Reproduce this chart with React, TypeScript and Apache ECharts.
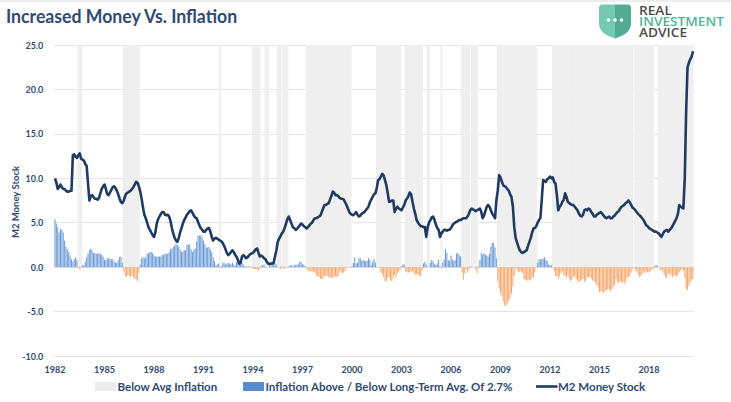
import React, { useEffect, useRef } from "react";
import * as echarts from "echarts";

const START_YEAR = 1982;

// CPI YoY minus long-term average of 2.7% (monthly, Jan 1982 - Sep 2020)
const inflationVsAvg = [
  5.4, 4.9, 4.5, 3.9, 4.3, 4.2, 3.9, 3.0, 2.3, 2.0, 1.7, 1.3,
  0.9, 0.6, 0.9, 1.1, 0.8, -0.1, -0.3, -0.1, 0.2, 0.2, 0.6, 1.1,
  1.5, 1.9, 2.1, 1.9, 1.6, 1.6, 1.5, 1.5, 1.6, 1.5, 1.4, 1.2,
  0.8, 0.8, 1.0, 1.0, 0.9, 0.9, 0.9, 0.6, 0.5, 0.5, 0.8, 1.1,
  1.2, 0.5, -0.5, -1.0, -1.1, -0.9, -1.0, -1.1, -0.9, -1.1, -1.3, -1.4,
  -1.6, -0.7, 0.3, 1.0, 1.1, 1.0, 1.1, 1.5, 1.6, 1.7, 1.7, 1.6,
  1.3, 1.2, 1.2, 1.2, 1.2, 1.2, 1.4, 1.4, 1.5, 1.5, 1.5, 1.7,
  2.0, 2.1, 2.3, 2.4, 2.7, 2.5, 2.3, 2.0, 1.7, 1.8, 1.9, 1.9,
  2.5, 2.6, 2.5, 2.0, 1.7, 2.0, 2.1, 2.9, 3.5, 3.6, 3.6, 3.4,
  3.0, 2.6, 2.2, 2.2, 2.3, 2.0, 1.7, 1.1, 0.7, 0.2, 0.3, 0.4,
  -0.1, 0.1, 0.5, 0.5, 0.3, 0.4, 0.5, 0.4, 0.3, 0.5, 0.3, 0.2,
  0.6, 0.5, 0.4, 0.5, 0.5, 0.3, 0.1, 0.1, 0.05, 0.1, 0.05, 0.05,
  -0.2, -0.2, -0.2, -0.3, -0.4, -0.2, 0.1, 0.2, 0.3, -0.1, -0.05, -0.05,
  0.2, 0.2, 0.2, 0.4, 0.5, 0.3, -0.05, -0.1, -0.2, 0.1, -0.1, -0.2,
  -0.05, -0.05, 0.1, 0.2, 0.2, 0.1, 0.3, 0.2, 0.3, 0.3, 0.6, 0.6,
  0.3, 0.3, 0.1, -0.2, -0.5, -0.4, -0.5, -0.5, -0.5, -0.6, -0.9, -1.0,
  -1.1, -1.3, -1.3, -1.3, -1.0, -1.0, -1.0, -1.1, -1.2, -1.2, -1.2, -1.1,
  -1.0, -1.1, -1.0, -0.4, -0.6, -0.7, -0.6, -0.4, -0.1, -0.1, -0.1, -0.05,
  0.1, 0.5, 1.1, 0.4, 0.5, 1.0, 1.0, 0.7, 0.8, 0.7, 0.7, 0.7,
  1.0, 0.8, 0.2, 0.6, 0.9, 0.5, -0.05, -0.05, -0.1, -0.6, -0.8, -1.1,
  -1.6, -1.6, -1.2, -1.1, -1.5, -1.6, -1.2, -0.9, -1.2, -0.7, -0.5, -0.3,
  0.1, 0.3, 0.3, -0.5, -0.6, -0.6, -0.6, -0.5, -0.4, -0.7, -0.9, -0.8,
  -0.8, -1.0, -1.0, -0.4, 0.4, 0.6, 0.3, -0.05, -0.1, 0.5, 0.8, 0.6,
  0.3, 0.3, 0.4, 0.8, 0.1, -0.2, 0.5, 0.9, 2.0, 1.6, 0.8, 0.7,
  1.3, 0.9, 0.7, 0.8, 1.5, 1.6, 1.4, 1.2, -0.6, -1.4, -0.7, -0.2,
  -0.6, -0.3, 0.1, -0.1, -0.05, -0.05, -0.3, -0.7, 0.1, 0.8, 1.6, 1.4,
  1.6, 1.4, 1.3, 1.2, 1.5, 2.3, 2.8, 2.7, 2.2, 1.0, -1.6, -2.4,
  -2.9, -3.3, -3.9, -4.3, -4.4, -4.1, -3.8, -3.5, -3.0, -2.2, -1.0, -0.1,
  -0.3, -0.6, -0.5, -0.5, -0.7, -1.4, -1.4, -1.5, -1.5, -1.4, -1.5, -1.2,
  -1.1, -0.6, -0.05, 0.5, 0.9, 0.9, 0.9, 1.0, 1.1, 0.8, 0.7, 0.3,
  0.2, 0.2, -0.05, -0.4, -1.0, -1.0, -1.3, -1.0, -0.7, -0.5, -0.9, -1.0,
  -1.2, -0.9, -1.3, -1.6, -1.4, -1.1, -1.0, -1.3, -1.5, -1.7, -1.6, -1.4,
  -1.3, -1.7, -1.5, -1.2, -1.1, -1.1, -1.3, -1.5, -1.6, -1.7, -2.0, -2.3,
  -2.8, -2.7, -2.8, -2.9, -2.7, -2.6, -2.5, -2.5, -2.7, -2.5, -2.2, -2.0,
  -1.3, -1.7, -1.8, -1.6, -1.7, -1.7, -1.9, -1.6, -1.2, -1.1, -1.0, -0.6,
  -0.2, 0.05, -0.3, -0.5, -0.8, -1.1, -1.0, -0.8, -0.5, -0.7, -0.5, -0.6,
  -0.6, -0.5, -0.3, -0.2, 0.1, 0.2, 0.2, -0.05, -0.4, -0.2, -0.5, -0.8,
  -1.1, -1.2, -0.8, -0.7, -0.9, -1.1, -0.9, -1.0, -1.0, -0.9, -0.6, -0.4,
  -0.2, -0.4, -1.2, -2.4, -2.6, -2.1, -1.7, -1.4, -1.3,
];

// M2 money stock, year-over-year % change (monthly, Jan 1982 - Sep 2020)
const m2Growth = [
  10.0, 9.5, 8.8, 9.0, 9.3, 9.0, 8.8, 8.8, 8.6, 8.5, 8.5, 8.6,
  8.6, 12.6, 12.7, 12.4, 12.3, 12.6, 12.8, 12.2, 12.1, 12.0, 11.6, 11.4,
  9.5, 7.5, 8.0, 8.1, 7.9, 7.7, 7.7, 7.6, 7.8, 8.3, 8.8, 9.1,
  9.3, 8.8, 8.2, 8.1, 8.4, 8.7, 9.0, 9.1, 8.9, 8.6, 8.2, 7.7,
  7.3, 7.2, 7.5, 8.0, 8.3, 8.4, 8.5, 8.6, 8.8, 9.0, 9.3, 9.6,
  9.5, 9.1, 8.5, 7.7, 6.7, 5.9, 5.5, 5.0, 4.5, 4.2, 3.9, 3.6,
  3.4, 3.9, 4.9, 5.4, 5.7, 6.0, 6.2, 6.2, 5.9, 5.85, 5.9, 5.7,
  5.2, 4.4, 3.8, 3.3, 3.0, 2.85, 3.3, 3.9, 4.4, 4.9, 5.3, 5.6,
  5.9, 6.1, 6.3, 6.4, 6.1, 5.8, 5.6, 5.5, 5.1, 4.7, 4.4, 4.2,
  4.0, 4.0, 4.2, 4.35, 4.4, 4.0, 3.4, 3.0, 3.2, 3.3, 3.2, 3.1,
  3.0, 2.9, 2.7, 2.4, 2.0, 1.6, 1.35, 1.5, 1.7, 1.9, 1.7, 1.4,
  1.16, 0.8, 0.4, 0.5, 1.2, 1.35, 1.2, 1.0, 1.1, 1.3, 1.45, 1.55,
  1.6, 1.8, 2.0, 2.1, 1.6, 1.2, 1.3, 1.2, 1.0, 0.9, 0.6, 0.4,
  0.35, 0.4, 0.4, 0.5, 1.2, 1.9, 2.85, 3.2, 3.5, 3.8, 4.0, 4.4,
  4.9, 5.4, 5.7, 5.3, 4.9, 4.5, 4.4, 4.2, 4.3, 4.5, 4.7, 4.9,
  4.8, 4.6, 4.5, 4.35, 4.5, 4.7, 4.9, 5.0, 5.3, 5.5, 5.5, 5.6,
  5.7, 5.8, 6.2, 6.6, 7.0, 7.0, 7.1, 7.2, 7.6, 8.0, 8.5, 8.4,
  8.1, 8.1, 8.0, 7.8, 7.7, 7.7, 7.6, 7.3, 7.0, 6.6, 6.2, 6.0,
  5.9, 5.85, 6.0, 6.2, 5.9, 5.7, 5.8, 6.0, 6.1, 6.2, 6.4, 6.6,
  6.8, 7.3, 7.6, 7.9, 8.2, 8.3, 8.9, 9.8, 9.9, 10.2, 10.5, 10.3,
  9.8, 9.2, 8.3, 7.35, 7.4, 7.5, 7.5, 6.2, 6.6, 6.8, 6.6, 6.5,
  6.4, 6.7, 7.0, 7.5, 7.7, 8.0, 8.4, 8.2, 7.35, 6.6, 6.0, 5.3,
  5.0, 4.8, 4.6, 4.6, 4.5, 4.5, 3.4, 4.5, 5.0, 5.3, 5.6, 5.7,
  5.3, 4.8, 4.4, 4.2, 3.4, 3.8, 4.0, 4.2, 4.2, 4.1, 4.2, 4.2,
  4.4, 4.7, 4.9, 5.0, 5.1, 5.2, 5.3, 5.3, 5.4, 5.5, 5.5, 5.5,
  5.7, 6.0, 6.4, 6.6, 6.5, 6.4, 6.3, 6.4, 6.5, 6.6, 6.2, 5.5,
  5.8, 6.3, 6.8, 7.0, 6.8, 6.4, 6.0, 5.8, 5.5, 7.5, 8.6, 10.35,
  10.1, 9.6, 9.2, 9.1, 9.0, 8.8, 8.6, 8.2, 7.9, 6.8, 4.5, 3.3,
  2.8, 2.3, 1.9, 1.7, 1.6, 1.7, 1.8, 1.9, 2.4, 2.85, 3.3, 3.9,
  4.35, 4.4, 4.6, 5.0, 5.3, 5.5, 7.6, 9.8, 9.7, 9.6, 9.9, 10.0,
  10.2, 10.0, 10.1, 9.6, 9.4, 8.1, 6.4, 6.8, 7.0, 7.35, 7.6, 8.3,
  7.9, 7.35, 7.2, 7.1, 7.0, 7.0, 6.8, 6.6, 6.4, 6.0, 5.8, 5.7,
  5.9, 6.4, 6.5, 6.4, 6.6, 6.5, 6.2, 6.0, 5.7, 5.7, 5.9, 6.0,
  6.1, 6.2, 6.0, 5.8, 5.6, 5.5, 5.6, 5.7, 5.5, 5.5, 5.7, 5.8,
  6.0, 6.2, 6.3, 6.6, 6.8, 6.9, 7.0, 7.2, 7.3, 7.5, 7.3, 7.0,
  6.7, 6.6, 6.4, 6.2, 6.0, 5.85, 5.7, 5.5, 5.3, 5.0, 4.7, 4.6,
  4.4, 4.3, 4.2, 4.1, 4.0, 4.0, 3.9, 3.8, 3.6, 3.4, 3.7, 4.0,
  4.1, 4.2, 4.0, 4.2, 4.35, 4.6, 4.9, 5.2, 5.5, 6.0, 7.0, 6.8,
  6.7, 6.6, 10.0, 17.5, 22.5, 23.0, 23.4, 23.7, 24.3,
];

const categories = m2Growth.map(
  (_, i) => `${START_YEAR + Math.floor(i / 12)}-${String((i % 12) + 1).padStart(2, "0")}`
);

const Y_MIN = -10;
const Y_MAX = 25;
const Y_STEP = 5;

const SHADE_NAME = "Below Avg Inflation";
const BARS_NAME = "Inflation Above / Below Long-Term Avg. Of 2.7%";
const LINE_NAME = "M2 Money Stock";

// shading where inflation is below its long-term average
const belowAvgShade = inflationVsAvg.map((v) => (v < 0 ? Y_MAX : "-"));

const NAVY = "#2f4b72";
const BLUE = "#6a9ad6";
const BLUE_KEY = "#5b8ccf";
const ORANGE = "#f5a76d";
const SHADE = "#efefef";
const LINE = "#1f3b63";
const FONT = "Lato, 'Open Sans', sans-serif";
const LOGO_FONT = "'Open Sans', sans-serif";

export default function App() {
  const ref = useRef<HTMLDivElement>(null);

  useEffect(() => {
    if (!ref.current) return;
    echarts.graphic.registerShape(
      "shieldLeft",
      echarts.graphic.extendPath("M16,0 L2,0 L0,2 L0,19 C0,27 7,31 16,34 Z", {})
    );
    echarts.graphic.registerShape(
      "shieldRight",
      echarts.graphic.extendPath("M16,0 L30,0 L32,2 L32,19 C32,27 25,31 16,34 Z", {})
    );
    const chart = echarts.init(ref.current, null, { renderer: "svg" });

    const legendText = (x: number, text: string) => ({
      type: "text",
      x,
      y: 386.5,
      style: {
        text,
        fontFamily: FONT,
        fontWeight: "bold",
        fontSize: 11.5,
        fill: NAVY,
        align: "left",
        verticalAlign: "middle",
      },
    });

    const option: any = {
      animation: false,
      backgroundColor: "#ffffff",
      grid: { left: 54.3, top: 45, width: 639.4, height: 311, containLabel: false },
      xAxis: [
        {
          type: "category",
          data: categories,
          boundaryGap: true,
          axisLine: { show: false },
          axisTick: { show: false },
          splitLine: { show: false },
          axisLabel: {
            interval: 35,
            margin: 9,
            color: NAVY,
            fontFamily: FONT,
            fontWeight: "bold",
            fontSize: 9,
            formatter: (v: string) => v.slice(0, 4),
          },
        },
        {
          type: "category",
          data: categories,
          boundaryGap: true,
          show: false,
        },
      ],
      yAxis: {
        type: "value",
        min: Y_MIN,
        max: Y_MAX,
        interval: Y_STEP,
        axisLine: { show: false },
        axisTick: { show: false },
        axisLabel: {
          margin: 11,
          color: NAVY,
          fontFamily: FONT,
          fontWeight: "bold",
          fontSize: 9,
          formatter: (v: number) => v.toFixed(1),
        },
        splitLine: { lineStyle: { color: "#e4e4e4", width: 1.2 } },
      },
      series: [
        {
          name: SHADE_NAME,
          type: "bar",
          xAxisIndex: 1,
          data: belowAvgShade,
          barWidth: 1.9,
          itemStyle: { color: SHADE },
          silent: true,
          z: 1,
        },
        {
          name: BARS_NAME,
          type: "bar",
          xAxisIndex: 0,
          data: inflationVsAvg.map((v) => ({
            value: v,
            itemStyle: { color: v < 0 ? ORANGE : BLUE },
          })),
          barWidth: "72%",
          itemStyle: { color: BLUE_KEY },
          silent: true,
          z: 2,
        },
        {
          name: LINE_NAME,
          type: "line",
          xAxisIndex: 0,
          data: m2Growth,
          symbol: "none",
          smooth: false,
          lineStyle: { color: LINE, width: 2.6, join: "round" },
          itemStyle: { color: LINE },
          silent: true,
          z: 3,
        },
      ],
      graphic: [
        { type: "rect", shape: { x: 0, y: 0, width: 731, height: 2 }, style: { fill: "#ececec" } },
        {
          type: "text",
          x: 6,
          y: 15.5,
          scaleX: 0.93,
          style: {
            text: "Increased Money Vs. Inflation",
            fontFamily: FONT,
            fontWeight: "bold",
            fontSize: 19,
            fill: NAVY,
            align: "left",
            verticalAlign: "middle",
          },
        },
        {
          type: "text",
          x: 15.5,
          y: 202,
          rotation: Math.PI / 2,
          style: {
            text: "M2 Money Stock",
            fontFamily: FONT,
            fontWeight: "bold",
            fontSize: 9.5,
            fill: NAVY,
            align: "center",
            verticalAlign: "middle",
          },
        },
        // legend
        { type: "rect", shape: { x: 95, y: 382, width: 21, height: 9 }, style: { fill: "#ececec" } },
        legendText(117.5, SHADE_NAME),
        { type: "rect", shape: { x: 243, y: 382, width: 21, height: 9 }, style: { fill: BLUE_KEY } },
        legendText(265.5, BARS_NAME),
        {
          type: "line",
          shape: { x1: 536, y1: 386.5, x2: 557.5, y2: 386.5 },
          style: { stroke: LINE, lineWidth: 2.6 },
        },
        legendText(558, LINE_NAME),
        // logo
        { type: "shieldLeft", x: 599, y: 4.5, style: { fill: "#74c9b1" } },
        { type: "shieldRight", x: 599, y: 4.5, style: { fill: "#52ab92" } },
        { type: "circle", shape: { cx: 608.5, cy: 20, r: 1.8 }, style: { fill: "#ffffff" } },
        { type: "circle", shape: { cx: 615, cy: 20, r: 1.8 }, style: { fill: "#ffffff" } },
        { type: "circle", shape: { cx: 621.5, cy: 20, r: 1.8 }, style: { fill: "#ffffff" } },
        {
          type: "text",
          x: 639,
          y: 5,
          scaleX: 1.14,
          style: {
            text: "{a|REAL}\n{b|INVESTMENT}\n{a|ADVICE}",
            align: "left",
            verticalAlign: "top",
            rich: {
              a: { fontFamily: LOGO_FONT, fontWeight: 600, fontSize: 12, lineHeight: 11, fill: "#4a4a4a" },
              b: { fontFamily: LOGO_FONT, fontWeight: 600, fontSize: 12, lineHeight: 11, fill: "#4fb597" },
            },
          },
        },
      ],
    };

    chart.setOption(option);
    return () => chart.dispose();
  }, []);

  return (
    <div
      ref={ref}
      style={{ position: "absolute", left: 0, top: 0, width: 731, height: 402 }}
    />
  );
}
